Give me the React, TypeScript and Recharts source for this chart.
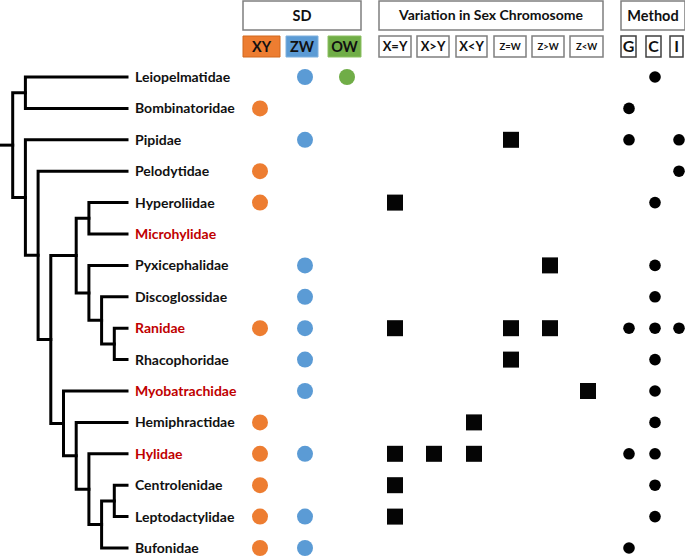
import React from "react";
import { ScatterChart, Scatter, XAxis, YAxis, ReferenceArea } from "recharts";

const FONT = "Lato, 'Open Sans', sans-serif";

// families, top to bottom
const families = [
  "Leiopelmatidae",
  "Bombinatoridae",
  "Pipidae",
  "Pelodytidae",
  "Hyperoliidae",
  "Microhylidae",
  "Pyxicephalidae",
  "Discoglossidae",
  "Ranidae",
  "Rhacophoridae",
  "Myobatrachidae",
  "Hemiphractidae",
  "Hylidae",
  "Centrolenidae",
  "Leptodactylidae",
  "Bufonidae",
];
const redFamilies = ["Microhylidae", "Ranidae", "Myobatrachidae", "Hylidae"];

// sex determination
const sdXY = ["Bombinatoridae", "Pelodytidae", "Hyperoliidae", "Ranidae", "Hemiphractidae", "Hylidae", "Centrolenidae", "Leptodactylidae", "Bufonidae"];
const sdZW = ["Leiopelmatidae", "Pipidae", "Pyxicephalidae", "Discoglossidae", "Ranidae", "Rhacophoridae", "Myobatrachidae", "Hylidae", "Leptodactylidae", "Bufonidae"];
const sdOW = ["Leiopelmatidae"];

// variation in sex chromosome
const varXeqY = ["Hyperoliidae", "Ranidae", "Hylidae", "Centrolenidae", "Leptodactylidae"];
const varXgtY = ["Hylidae"];
const varXltY = ["Hemiphractidae", "Hylidae"];
const varZeqW = ["Pipidae", "Ranidae", "Rhacophoridae"];
const varZgtW = ["Pyxicephalidae", "Ranidae"];
const varZltW = ["Myobatrachidae"];

// method
const methodG = ["Bombinatoridae", "Pipidae", "Ranidae", "Hylidae", "Bufonidae"];
const methodC = ["Leiopelmatidae", "Hyperoliidae", "Pyxicephalidae", "Discoglossidae", "Ranidae", "Rhacophoridae", "Myobatrachidae", "Hemiphractidae", "Hylidae", "Centrolenidae", "Leptodactylidae"];
const methodI = ["Pipidae", "Pelodytidae", "Ranidae"];

// tree topology, d = node depth level
type TNode = string | { d: number; c: TNode[] };
const tree: TNode = {
  d: 1,
  c: [
    { d: 2, c: ["Leiopelmatidae", "Bombinatoridae"] },
    {
      d: 2,
      c: [
        "Pipidae",
        {
          d: 3,
          c: [
            "Pelodytidae",
            {
              d: 4,
              c: [
                {
                  d: 6,
                  c: [
                    { d: 7, c: ["Hyperoliidae", "Microhylidae"] },
                    {
                      d: 7,
                      c: [
                        "Pyxicephalidae",
                        { d: 8, c: ["Discoglossidae", { d: 9, c: ["Ranidae", "Rhacophoridae"] }] },
                      ],
                    },
                  ],
                },
                {
                  d: 5,
                  c: [
                    "Myobatrachidae",
                    {
                      d: 6,
                      c: [
                        "Hemiphractidae",
                        {
                          d: 7,
                          c: [
                            "Hylidae",
                            { d: 8, c: [{ d: 9, c: ["Centrolenidae", "Leptodactylidae"] }, "Bufonidae"] },
                          ],
                        },
                      ],
                    },
                  ],
                },
              ],
            },
          ],
        },
      ],
    },
  ],
};

// ---- layout ----
const W = 685;
const H = 556;
const ROW0 = 77; // px of first row
const ROW_H = 31.4;
const rowOf = (px: number) => (px - ROW0) / ROW_H;
const TREE_STEP = 12.7;
const TIP_LEVEL = 10;
const LABEL_X = 135;

const sdCols = [
  { key: "XY", list: sdXY, color: "#ED7D31", border: "#D0691F", x1: 243, x2: 280, dot: 260 },
  { key: "ZW", list: sdZW, color: "#5B9BD5", border: "#7FB0DD", x1: 286, x2: 318, dot: 305 },
  { key: "OW", list: sdOW, color: "#70AD47", border: "#8CC063", x1: 328, x2: 361, dot: 347 },
];
const varCols = [
  { key: "X=Y", list: varXeqY, x1: 379, x2: 411, dot: 395, fs: 13 },
  { key: "X>Y", list: varXgtY, x1: 417, x2: 449, dot: 434, fs: 13 },
  { key: "X<Y", list: varXltY, x1: 456, x2: 487, dot: 474, fs: 13 },
  { key: "Z=W", list: varZeqW, x1: 494, x2: 526, dot: 511, fs: 9.5 },
  { key: "Z>W", list: varZgtW, x1: 532, x2: 564, dot: 550, fs: 9.5 },
  { key: "Z<W", list: varZltW, x1: 570, x2: 603, dot: 588, fs: 9.5 },
];
const methodCols = [
  { key: "G", list: methodG, x1: 621, x2: 636, dot: 629 },
  { key: "C", list: methodC, x1: 646, x2: 661, dot: 655 },
  { key: "I", list: methodI, x1: 670, x2: 683, dot: 679 },
];

type Pt = { x: number; y: number; name?: string };

function buildTree(node: TNode, segs: Pt[][]): Pt {
  if (typeof node === "string") {
    return { x: TIP_LEVEL * TREE_STEP, y: families.indexOf(node) };
  }
  const kids = node.c.map((k) => buildTree(k, segs));
  const nx = node.d * TREE_STEP;
  const y = kids.reduce((s, k) => s + k.y, 0) / kids.length;
  const first = kids[0];
  const last = kids[kids.length - 1];
  segs.push([
    { x: first.x, y: first.y },
    { x: nx, y: first.y },
    { x: nx, y: last.y },
    { x: last.x, y: last.y },
  ]);
  return { x: nx, y };
}

const treeSegs: Pt[][] = [];
const rootPt = buildTree(tree, treeSegs);
treeSegs.push([
  { x: 0, y: rootPt.y },
  { x: rootPt.x, y: rootPt.y },
]);

const rowsFor = (list: string[], x: number): Pt[] =>
  list.map((f) => ({ x, y: families.indexOf(f), name: f }));

const Empty = () => <g />;

function NameLabel(props: any) {
  const { cx, cy, payload } = props;
  const red = redFamilies.includes(payload.name);
  return (
    <text
      x={cx}
      y={cy}
      dy="0.36em"
      textAnchor="start"
      fontFamily={FONT}
      fontWeight={700}
      fontSize={14}
      fill={red ? "#C00000" : "#111"}
    >
      {payload.name}
    </text>
  );
}

const dot = (r: number, fill: string) => (props: any) =>
  <circle cx={props.cx} cy={props.cy} r={r} fill={fill} />;

const square = (props: any) => (
  <rect x={props.cx - 8} y={props.cy - 8} width={16} height={16} fill="#050505" />
);

const hdrLabel = (value: string, fs: number) => ({
  value,
  position: "center" as const,
  fill: "#111",
  fontSize: fs,
  fontWeight: 700,
  fontFamily: FONT,
});

const TOP1 = rowOf(1);
const TOP2 = rowOf(30);
const SUB1 = rowOf(36);
const SUB2 = rowOf(57);

export default function App() {
  return (
    <div style={{ position: "absolute", left: 0, top: 0, background: "#fff" }}>
      <ScatterChart width={W} height={H} margin={{ top: 0, right: 0, bottom: 0, left: 0 }}>
        <XAxis type="number" dataKey="x" domain={[0, W]} hide allowDataOverflow />
        <YAxis type="number" dataKey="y" domain={[rowOf(0), rowOf(H)]} reversed hide allowDataOverflow />

        {/* group headers */}
        <ReferenceArea x1={243} x2={361} y1={TOP1} y2={TOP2} fill="#fff" fillOpacity={1} stroke="#7F7F7F" strokeWidth={1.5} label={hdrLabel("SD", 14.5)} />
        <ReferenceArea x1={379} x2={603} y1={TOP1} y2={TOP2} fill="#fff" fillOpacity={1} stroke="#7F7F7F" strokeWidth={1.5} label={hdrLabel("Variation in Sex Chromosome", 14)} />
        <ReferenceArea x1={621} x2={W} y1={TOP1} y2={TOP2} fill="#fff" fillOpacity={1} stroke="#7F7F7F" strokeWidth={1.5} label={hdrLabel("Method", 14.5)} />

        {sdCols.map((c) => (
          <ReferenceArea key={c.key} x1={c.x1} x2={c.x2} y1={SUB1} y2={SUB2} fill={c.color} fillOpacity={1} stroke={c.border} strokeWidth={1} label={hdrLabel(c.key, 14.5)} />
        ))}
        {varCols.map((c) => (
          <ReferenceArea key={c.key} x1={c.x1} x2={c.x2} y1={SUB1} y2={SUB2} fill="#fff" fillOpacity={1} stroke="#7F7F7F" strokeWidth={1.5} label={hdrLabel(c.key, c.fs)} />
        ))}
        {methodCols.map((c) => (
          <ReferenceArea key={c.key} x1={c.x1} x2={c.x2} y1={SUB1} y2={SUB2} fill="#fff" fillOpacity={1} stroke="#404040" strokeWidth={1.5} label={hdrLabel(c.key, 16)} />
        ))}

        {/* tree */}
        {treeSegs.map((seg, i) => (
          <Scatter
            key={"t" + i}
            data={seg}
            line={{ stroke: "#000", strokeWidth: 3, strokeLinejoin: "miter", strokeLinecap: "square" }}
            shape={Empty}
            isAnimationActive={false}
            legendType="none"
          />
        ))}

        {/* family names */}
        <Scatter
          data={families.map((f, i) => ({ x: LABEL_X, y: i, name: f }))}
          shape={NameLabel}
          isAnimationActive={false}
        />

        {sdCols.map((c) => (
          <Scatter key={"sd" + c.key} data={rowsFor(c.list, c.dot)} shape={dot(8, c.color)} isAnimationActive={false} />
        ))}
        {varCols.map((c) => (
          <Scatter key={"v" + c.key} data={rowsFor(c.list, c.dot)} shape={square} isAnimationActive={false} />
        ))}
        {methodCols.map((c) => (
          <Scatter key={"m" + c.key} data={rowsFor(c.list, c.dot)} shape={dot(5.8, "#000")} isAnimationActive={false} />
        ))}
      </ScatterChart>
    </div>
  );
}
